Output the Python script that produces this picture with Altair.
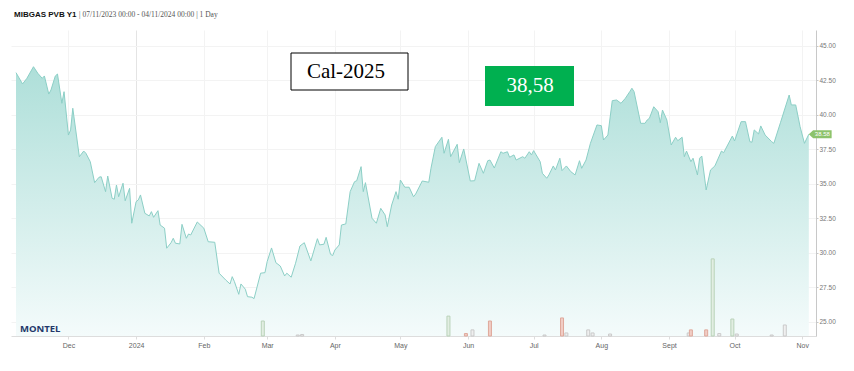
import altair as alt
import pandas as pd

# ---------------- data ----------------
dates = [
    "2023-11-07", "2023-11-10", "2023-11-12", "2023-11-15", "2023-11-17", "2023-11-19", "2023-11-20",
    "2023-11-22", "2023-11-23", "2023-11-25", "2023-11-26", "2023-11-28", "2023-11-29",
    "2023-12-01", "2023-12-02", "2023-12-03", "2023-12-06", "2023-12-08", "2023-12-09", "2023-12-11",
    "2023-12-13", "2023-12-15", "2023-12-16", "2023-12-18", "2023-12-19", "2023-12-21", "2023-12-22",
    "2023-12-23", "2023-12-24", "2023-12-26", "2023-12-27", "2023-12-29", "2023-12-30",
    "2024-01-01", "2024-01-02", "2024-01-03", "2024-01-05", "2024-01-07", "2024-01-08", "2024-01-09",
    "2024-01-11", "2024-01-12", "2024-01-14", "2024-01-15", "2024-01-17", "2024-01-18", "2024-01-19",
    "2024-01-21", "2024-01-22", "2024-01-24", "2024-01-25", "2024-01-26", "2024-01-29",
    "2024-02-01", "2024-02-03", "2024-02-06", "2024-02-08", "2024-02-11", "2024-02-13", "2024-02-14",
    "2024-02-15", "2024-02-17", "2024-02-18", "2024-02-20", "2024-02-21", "2024-02-23", "2024-02-24",
    "2024-02-27", "2024-02-29",
    "2024-03-01", "2024-03-03", "2024-03-05", "2024-03-07", "2024-03-09", "2024-03-10", "2024-03-12",
    "2024-03-14", "2024-03-16", "2024-03-18", "2024-03-21", "2024-03-24", "2024-03-25", "2024-03-27",
    "2024-03-28", "2024-03-30", "2024-03-31",
    "2024-04-01", "2024-04-03", "2024-04-04", "2024-04-06", "2024-04-08", "2024-04-10", "2024-04-11",
    "2024-04-13", "2024-04-14", "2024-04-15", "2024-04-18", "2024-04-20", "2024-04-22", "2024-04-24",
    "2024-04-25", "2024-04-27", "2024-04-29", "2024-04-30",
    "2024-05-01", "2024-05-03", "2024-05-05", "2024-05-07", "2024-05-08", "2024-05-11", "2024-05-14",
    "2024-05-15", "2024-05-17", "2024-05-20", "2024-05-21", "2024-05-23", "2024-05-24", "2024-05-27",
    "2024-05-28", "2024-05-30",
    "2024-06-02", "2024-06-04", "2024-06-06", "2024-06-08", "2024-06-10", "2024-06-11", "2024-06-13",
    "2024-06-16", "2024-06-17", "2024-06-19", "2024-06-20", "2024-06-22", "2024-06-23", "2024-06-26",
    "2024-06-27", "2024-06-29", "2024-06-30",
    "2024-07-01", "2024-07-04", "2024-07-05", "2024-07-07", "2024-07-08", "2024-07-10", "2024-07-11",
    "2024-07-13", "2024-07-14", "2024-07-16", "2024-07-18", "2024-07-20", "2024-07-22", "2024-07-23",
    "2024-07-25", "2024-07-27", "2024-07-30",
    "2024-08-01", "2024-08-02", "2024-08-04", "2024-08-06", "2024-08-08", "2024-08-10", "2024-08-12",
    "2024-08-14", "2024-08-15", "2024-08-16", "2024-08-19", "2024-08-21", "2024-08-22", "2024-08-23",
    "2024-08-25", "2024-08-27", "2024-08-28", "2024-08-29", "2024-08-31",
    "2024-09-02", "2024-09-04", "2024-09-05", "2024-09-07", "2024-09-08", "2024-09-09", "2024-09-11",
    "2024-09-12", "2024-09-14", "2024-09-15", "2024-09-16", "2024-09-18", "2024-09-20", "2024-09-22",
    "2024-09-25", "2024-09-26", "2024-09-30",
    "2024-10-01", "2024-10-04", "2024-10-06", "2024-10-08", "2024-10-09", "2024-10-10", "2024-10-12",
    "2024-10-13", "2024-10-15", "2024-10-18", "2024-10-19", "2024-10-22", "2024-10-26", "2024-10-27",
    "2024-10-29", "2024-10-31",
    "2024-11-02", "2024-11-04",
]
prices = [
    43.04, 42.22, 42.63, 43.47, 42.99, 42.63, 42.80,
    41.49, 41.78, 42.80, 42.94, 40.82, 41.66,
    38.52, 38.89, 40.46, 36.95, 37.36, 37.20, 36.59,
    35.07, 35.46, 35.50, 34.42, 35.55, 33.94, 33.87,
    34.90, 34.05, 35.03, 33.76, 34.66, 32.13,
    33.69, 33.82, 34.18, 32.85, 32.66, 32.97, 32.56,
    33.04, 32.00, 31.77, 30.32, 30.72, 31.04, 30.68,
    30.63, 32.05, 31.04, 31.35, 31.28, 32.22,
    31.77, 30.79, 30.75, 28.51, 28.02, 27.73, 28.26,
    27.90, 26.98, 27.73, 27.35, 26.81, 26.77, 26.67,
    28.51, 28.55,
    29.35, 30.34, 29.27, 29.03, 28.31, 28.51, 28.22,
    29.23, 30.48, 30.72, 29.40, 31.01, 30.56, 30.61,
    31.11, 29.88, 29.79,
    30.19, 30.56, 32.00, 32.08, 34.42, 35.14, 35.21,
    36.23, 34.42, 35.07, 32.49, 32.13, 33.21, 32.73,
    31.88, 33.45, 34.42, 33.87,
    35.26, 34.74, 34.74, 34.05, 34.25, 35.19, 35.10,
    36.11, 37.68, 38.36, 37.20, 38.21, 36.95, 37.85,
    36.52, 37.51,
    35.19, 35.21, 36.47, 35.75, 36.66, 36.71, 36.13,
    37.31, 37.20, 37.31, 36.91, 37.08, 36.71, 36.95,
    36.84, 37.31, 37.08,
    37.39, 36.59, 35.75, 35.39, 35.63, 36.28, 35.99,
    36.84, 35.94, 36.28, 35.87, 35.63, 36.66, 36.11,
    36.71, 37.92, 39.25,
    39.20, 38.16, 38.52, 41.01, 41.06, 40.82, 41.18,
    41.66, 41.91, 41.66, 39.37, 39.37, 39.61, 39.73,
    40.57, 40.21, 39.41, 40.33, 39.61,
    37.80, 38.36, 38.11, 38.36, 36.95, 37.36, 36.59,
    36.84, 35.63, 36.84, 37.00, 34.54, 35.99, 36.28,
    37.36, 37.24, 38.45,
    38.09, 39.49, 39.49, 38.04, 38.00, 38.89, 38.60,
    39.18, 38.52, 38.04, 37.92, 39.41, 41.42, 40.70,
    40.70, 39.13,
    37.92, 38.58,
]

vol_dates = [
    "2024-02-28", "2024-03-15", "2024-03-17", "2024-05-23", "2024-05-31", "2024-06-03",
    "2024-06-11", "2024-07-06", "2024-07-14", "2024-07-16", "2024-07-26", "2024-07-28",
    "2024-08-05", "2024-09-10", "2024-09-11", "2024-09-18", "2024-09-21", "2024-09-24",
    "2024-09-30", "2024-10-02", "2024-10-18", "2024-10-24",
]
vol_values = [
    490, 33, 50, 650, 80, 200,
    490, 33, 590, 100, 200, 100,
    65, 100, 200, 200, 2520, 80,
    555, 65, 33, 360,
]
vol_dir = [
    "up", "flat", "flat", "up", "down", "flat",
    "down", "flat", "down", "flat", "flat", "flat",
    "flat", "flat", "down", "down", "up", "flat",
    "up", "flat", "flat", "flat",
]

y_ticks = [25.0, 27.5, 30.0, 32.5, 35.0, 37.5, 40.0, 42.5, 45.0]
y_domain = [23.96, 46.13]
header_name = "MIBGAS PVB Y1"
header_info = "| 07/11/2023 00:00 - 04/11/2024 00:00 | 1 Day"
product_label = "Cal-2025"
last_label = "38,58"
last_tag = "38.58"
logo_text = "MONTEL"

# ---------------- tables ----------------
df = pd.DataFrame({"date": dates, "price": prices})
vdf = pd.DataFrame({"date": vol_dates, "volume": vol_values, "dir": vol_dir})
last_df = pd.DataFrame({"date": [dates[-1]], "price": [prices[-1]], "tag": [last_tag]})
one = alt.Data(values=[{}])

xscale = alt.Scale(
    type="utc",
    domain=[alt.DateTime(year=2023, month=11, date=7, utc=True),
            alt.DateTime(year=2024, month=11, date=5, utc=True)],
)
yscale = alt.Scale(domain=y_domain, zero=False, nice=False)

x_axis = alt.Axis(
    title=None,
    tickCount={"interval": "month", "step": 1},
    labelExpr="utcmonth(datum.value)==0 ? utcFormat(datum.value,'%Y') : "
              "(utcmonth(datum.value)==8 ? 'Sept' : utcFormat(datum.value,'%b'))",
    labelFont="Liberation Sans",
    labelFontSize=7,
    labelColor="#666666",
    labelPadding=2,
    labelOverlap=False,
    labelFlush=False,
    domainColor="#dddddd",
    tickColor="#dddddd",
    tickSize=3,
    gridColor={"condition": {"test": "utcmonth(datum.value)==0", "value": "#e4e4e4"},
               "value": "#f3f3f3"},
)
y_axis = alt.Axis(
    orient="right",
    title=None,
    values=y_ticks,
    format=".2f",
    labelFont="Liberation Sans",
    labelFontSize=6.5,
    labelColor="#777777",
    labelPadding=1,
    domainColor="#c8c8c8",
    tickColor="#c8c8c8",
    tickSize=2,
    gridColor="#f3f3f3",
)

base = alt.Chart(df)

area = base.mark_area(
    color=alt.Gradient(
        gradient="linear",
        stops=[alt.GradientStop(color="#aedfd9", offset=0),
               alt.GradientStop(color="#f4fbfb", offset=1)],
        x1=0, x2=0, y1=0, y2=1,
    ),
    interpolate="linear",
).encode(
    x=alt.X("date:T", scale=xscale, axis=x_axis),
    y=alt.Y("price:Q", scale=yscale, axis=y_axis),
    y2=alt.datum(y_domain[0]),
)

line = base.mark_line(color="#8ccfc6", strokeWidth=1).encode(
    x=alt.X("date:T", scale=xscale),
    y=alt.Y("price:Q", scale=yscale, axis=None),
)

bars = alt.Chart(vdf).mark_bar(size=3, strokeWidth=1).encode(
    x=alt.X("date:T", scale=xscale),
    y=alt.Y("volume:Q", scale=alt.Scale(domain=[0, 10000]), axis=None),
    color=alt.Color("dir:N", legend=None,
                    scale=alt.Scale(domain=["up", "down", "flat"],
                                    range=["#e2eee2", "#f1cdc5", "#efefef"])),
    stroke=alt.Stroke("dir:N", legend=None,
                      scale=alt.Scale(domain=["up", "down", "flat"],
                                      range=["#b9d2b9", "#dfa89b", "#cacaca"])),
)

tag = alt.Chart(last_df).mark_point(
    shape="M0,0 L0.36,-0.34 L1.9,-0.34 L1.9,0.34 L0.36,0.34 Z",
    size=576, filled=True, color="#8cc36b", opacity=1,
).encode(
    x=alt.X("date:T", scale=xscale),
    y=alt.Y("price:Q", scale=yscale, axis=None),
)
tag_text = alt.Chart(last_df).mark_text(
    dx=13.5, fontSize=6, color="white", font="Liberation Sans", baseline="middle", align="center",
).encode(
    x=alt.X("date:T", scale=xscale),
    y=alt.Y("price:Q", scale=yscale, axis=None),
    text="tag:N",
)

head1 = alt.Chart(one).mark_text(
    text=header_name, font="Liberation Sans", fontWeight="bold", fontSize=8,
    color="#111111", align="left", baseline="alphabetic",
).encode(x=alt.value(3), y=alt.value(-13))
head2 = alt.Chart(one).mark_text(
    text=header_info, font="Liberation Serif", fontSize=7.5,
    color="#555555", align="left", baseline="alphabetic",
).encode(x=alt.value(68), y=alt.value(-13))

box1 = alt.Chart(one).mark_rect(fill="white", stroke="black", strokeWidth=1).encode(
    x=alt.value(280), x2=alt.value(397), y=alt.value(23), y2=alt.value(60)
)
box1_text = alt.Chart(one).mark_text(
    text=product_label, font="Liberation Serif", fontSize=21, color="black",
    align="center", baseline="middle",
).encode(x=alt.value(335), y=alt.value(42))

box2 = alt.Chart(one).mark_rect(fill="#00b050").encode(
    x=alt.value(474), x2=alt.value(563), y=alt.value(36), y2=alt.value(76)
)
box2_text = alt.Chart(one).mark_text(
    text=last_label, font="Liberation Serif", fontSize=21, color="white",
    align="center", baseline="middle",
).encode(x=alt.value(519), y=alt.value(56))

logo = alt.Chart(one).mark_text(
    text=logo_text, font="Open Sans", fontWeight="bold", fontSize=9.5,
    color="#23386a", align="left", baseline="alphabetic",
).encode(x=alt.value(9), y=alt.value(302))

chart = alt.layer(
    area, bars, line, tag, tag_text, logo, head1, head2, box1, box1_text, box2, box2_text
).resolve_scale(
    y="independent"
).properties(
    width=805,
    height=306,
    autosize=alt.AutoSizeParams(type="none"),
    padding={"left": 3, "top": 22, "right": 26, "bottom": 20},
    background="white",
).configure_view(stroke=None)

chart.save("out.html", embed_options={"renderer": "svg", "actions": False})
